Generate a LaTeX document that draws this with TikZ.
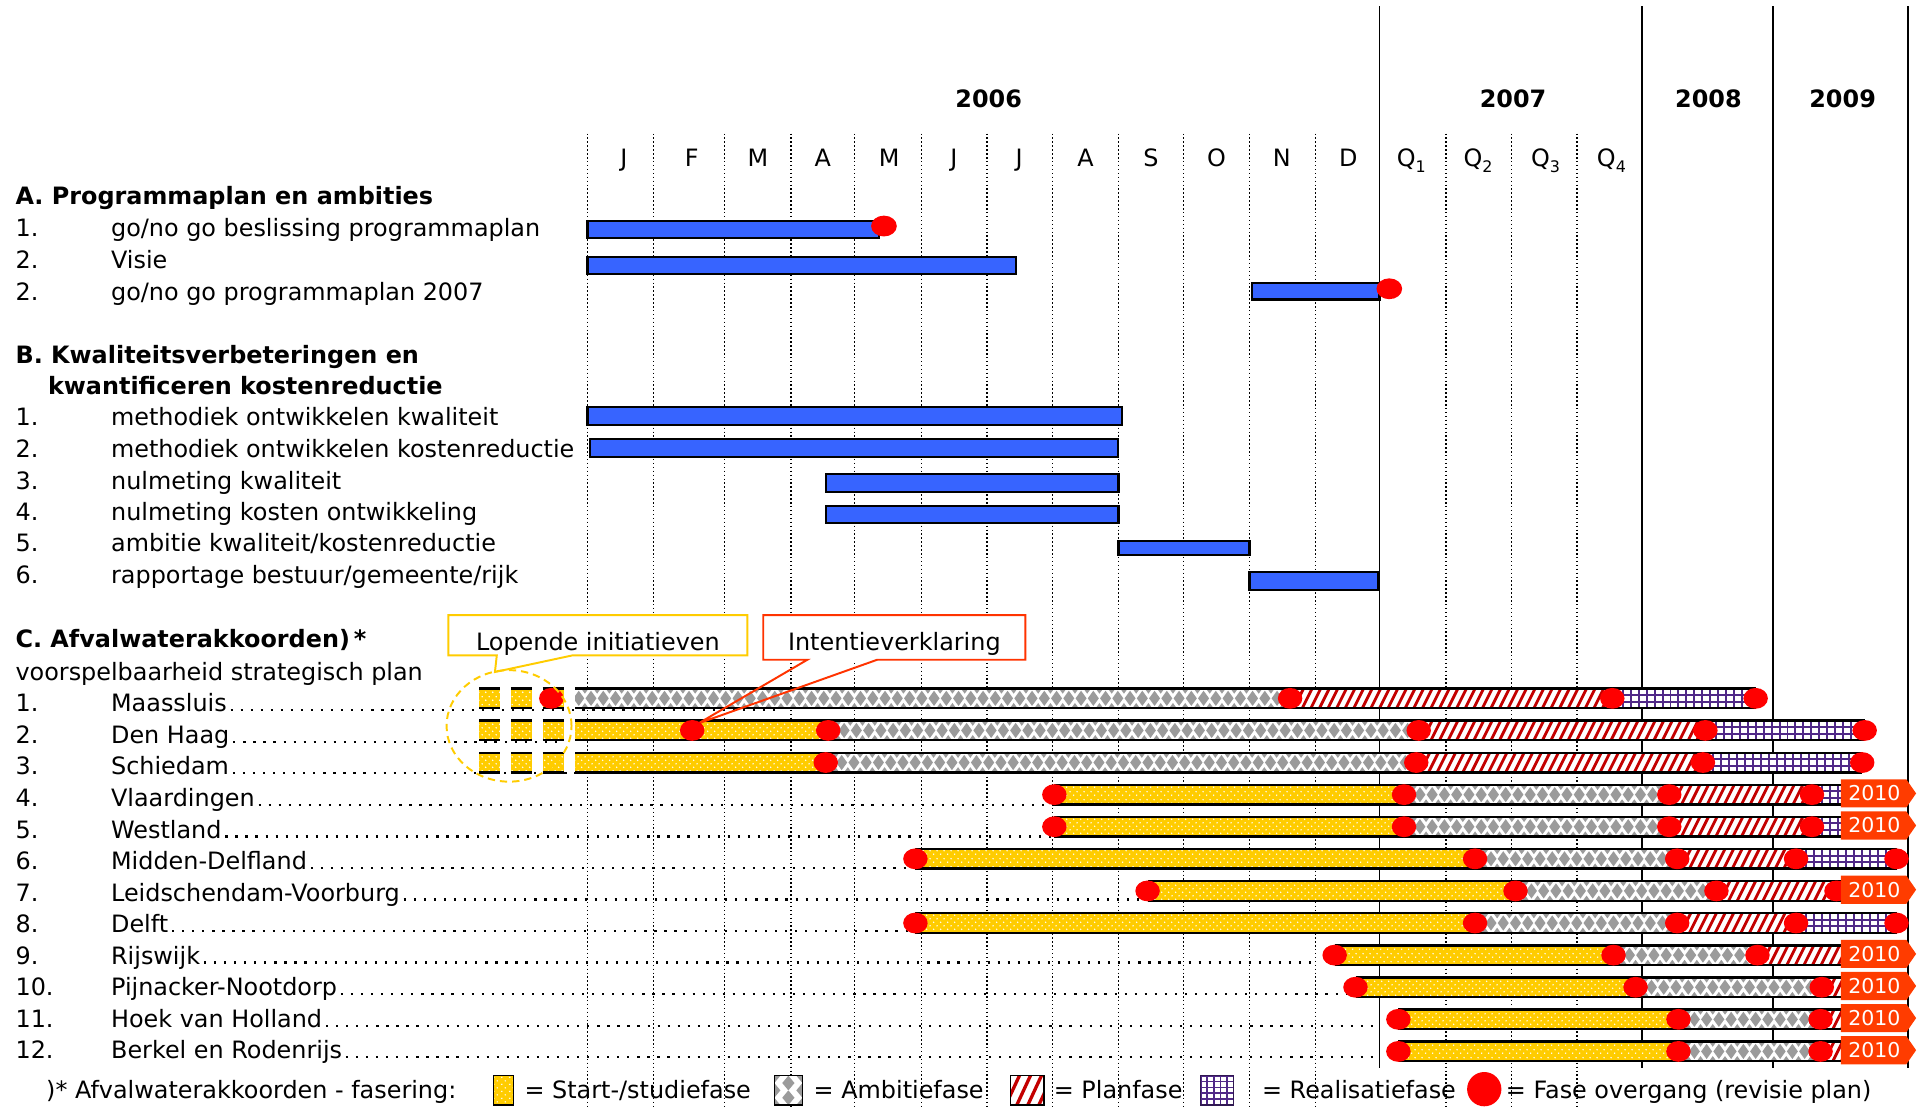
\documentclass[tikz,border=0pt]{standalone}
\usepackage{fontspec}
\setmainfont{DejaVu Sans}
\usetikzlibrary{patterns.meta}
\definecolor{bluebar}{RGB}{55,100,255}
\definecolor{ycol}{RGB}{255,204,0}
\definecolor{ambgrey}{RGB}{155,155,155}
\definecolor{plancol}{RGB}{195,0,0}
\definecolor{purp}{RGB}{80,40,135}
\definecolor{dotred}{RGB}{255,0,0}
\definecolor{orng}{RGB}{255,60,0}
\definecolor{callred}{RGB}{255,51,0}
\tikzdeclarepattern{
  name=ydots,
  type=uncolored,
  bounding box={(0pt,0pt) and (6pt,6pt)},
  tile size={(6pt,6pt)},
  code={
    \fill (1.5pt,1.5pt) circle [radius=0.7pt];
    \fill (4.5pt,4.5pt) circle [radius=0.7pt];
  }
}
% segment macros: #1 = x start, #2 = x end, #3 = bar centre y
\newcommand\yelseg[3]{%
  \fill[ycol] (#1,#3-8) rectangle (#2,#3+8);
  \fill[pattern=ydots, pattern color=white] (#1,#3-8) rectangle (#2,#3+8);}
\newcommand\ambseg[3]{%
  \begin{scope}
  \clip (#1,#3-8) rectangle (#2,#3+8);
  \fill[white] (#1,#3-8) rectangle (#2,#3+8);
  \pgfmathtruncatemacro\nmax{(#2-#1)/10+1}
  \foreach \k in {0,...,\nmax}{
    \pgfmathsetmacro\xx{#1+3+\k*10}
    \fill[ambgrey] (\xx-4.5,#3) -- (\xx,#3-6.2) -- (\xx+4.5,#3) -- (\xx,#3+6.2) -- cycle;
    \fill[ambgrey] (\xx+5-4.5,#3-10) -- (\xx+5,#3-16.2) -- (\xx+5+4.5,#3-10) -- (\xx+5,#3-3.8) -- cycle;
    \fill[ambgrey] (\xx+5-4.5,#3+10) -- (\xx+5,#3+3.8) -- (\xx+5+4.5,#3+10) -- (\xx+5,#3+16.2) -- cycle;
  }
  \end{scope}}
\newcommand\planseg[3]{%
  \begin{scope}
  \clip (#1,#3-8) rectangle (#2,#3+8);
  \fill[white] (#1,#3-8) rectangle (#2,#3+8);
  \pgfmathtruncatemacro\nmax{(#2-#1)/7+2}
  \foreach \k in {-1,...,\nmax}{
    \draw[plancol, line width=2.3pt] ({#1+\k*7-4.5},#3+9) -- ({#1+\k*7+4.5},#3-9);}
  \end{scope}}
\newcommand\realseg[3]{%
  \begin{scope}
  \clip (#1,#3-8) rectangle (#2,#3+8);
  \fill[white] (#1,#3-8) rectangle (#2,#3+8);
  \pgfmathtruncatemacro\nmax{(#2-#1)/6.5+1}
  \foreach \k in {0,...,\nmax}{
    \draw[purp, line width=1.6pt] ({#1+2+\k*6.5},#3-8) -- ({#1+2+\k*6.5},#3+8);}
  \draw[purp, line width=1.6pt] (#1,#3-2.7) -- (#2,#3-2.7) (#1,#3+2.7) -- (#2,#3+2.7);
  \end{scope}}
\newcommand\barframe[3]{%
  \draw[black, line width=2pt] (#1,#3-8) -- (#2,#3-8) (#1,#3+8) -- (#2,#3+8);}
\newcommand\rdot[2]{\fill[dotred] (#1,#2) ellipse [x radius=10pt, y radius=8.5pt];}
\newcommand\tenbox[2]{%
  \fill[orng] (1502.5,#1-11.5) -- (1556,#1-11.5) -- (1564,#1) -- (1556,#1+11.5) -- (1502.5,#1+11.5) -- cycle;
  \node[white, font=\fontsize{16.7}{18}\selectfont, inner sep=0pt] (#2) at (1530,#1) {2010};}
\newcommand\minisq[1]{%
  \foreach \a/\b in {391/408,417/434,443/460}{\yelseg{\a}{\b}{#1}\barframe{\a}{\b}{#1}}}

\begin{document}
\begin{tikzpicture}[x=1pt,y=-1pt,
  txt/.style={font=\fontsize{19.5}{23}\selectfont, inner sep=0pt, anchor=base west},
  bld/.style={font=\fontsize{19.5}{23}\selectfont\bfseries, inner sep=0pt, anchor=base west},
  hdr/.style={font=\fontsize{19.5}{23}\selectfont, inner sep=0pt, anchor=base},
  yr/.style={font=\fontsize{19.5}{23}\selectfont\bfseries, inner sep=0pt, anchor=base},
  gridln/.style={line width=1.1pt, dash pattern=on 1.2pt off 2pt},
  yearln/.style={line width=1.5pt},
  leader/.style={line width=1.8pt, dash pattern=on 1.8pt off 6.4pt},
  bluebox/.style={fill=bluebar, draw=black, line width=1.8pt},
]
\useasboundingbox (0,0) rectangle (1568,903);

% grid
\foreach \xx in {479.5,533.2,591.2,645.5,697.5,752.4,805.5,859.2,913,966.1,1019.8,1073.6,1180.4,1233.6,1287.3}
  {\draw[gridln] (\xx,109) -- (\xx,903);}
\foreach \xx in {1126,1340,1447.5,1557.5}
  {\draw[yearln] (\xx,5) -- (\xx,872);}

% header
\node[yr] (y2006) at (807,87.6) {2006};
\node[yr] (y2007) at (1235,87.6) {2007};
\node[yr] (y2008) at (1394.5,87.6) {2008};
\node[yr] (y2009) at (1504,87.6) {2009};
\foreach \m/\xx [count=\c] in {J/509.2,F/564.6,M/618.7,A/671.6,M/725.7,J/778.6,J/831.9,A/886,S/939.4,O/993,N/1046.3,D/1100.5}
  {\node[hdr] (mon\c) at (\xx,136) {\m};}
\foreach \q/\xx in {1/1152,2/1206.4,3/1261.6,4/1315.3}
  {\node[hdr] (q\q) at (\xx,136) {Q\raisebox{-4.9pt}{\fontsize{13}{13}\selectfont \q}};}

% section A
\node[bld] (hA) at (12.5,167.3) {A. Programmaplan en ambities};
\node[txt] (a1n) at (12.5,193.2) {1.};
\node[txt] (a1) at (90.5,193.2) {go/no go beslissing programmaplan};
\node[txt] (a2n) at (12.5,219) {2.};
\node[txt] (a2) at (90.5,219) {Visie};
\node[txt] (a3n) at (12.5,244.9) {2.};
\node[txt] (a3) at (90.5,244.9) {go/no go programmaplan 2007};
% section B
\node[bld] (hB) at (12.5,296.6) {B. Kwaliteitsverbeteringen en};
\node[bld] (hB2) at (39,321.6) {kwantificeren kostenreductie};
\foreach \i/\t/\yb in {1/methodiek ontwikkelen kwaliteit/347.7,2/methodiek ontwikkelen kostenreductie/373.3,3/nulmeting kwaliteit/399.4,4/nulmeting kosten ontwikkeling/425,5/ambitie kwaliteit\slash kostenreductie/450.3,6/rapportage bestuur\slash gemeente\slash rijk/476.2}{
  \node[txt] (bn\i) at (12.5,\yb) {\i.};
  \node[txt] (b\i) at (90.5,\yb) {\t};
}
% section C
\node[bld] (hC) at (12.5,528.4) {C. Afvalwaterakkoorden)\,*};
\node[txt] (hC2) at (12.5,555.1) {voorspelbaarheid strategisch plan};
\foreach \i/\nm/\xe in {1/Maassluis/634,2/Den Haag/460,3/Schiedam/588,4/Vlaardingen/1039,5/Westland/1055,6/Midden-Delfland/749,7/Leidschendam-Voorburg/1148,8/Delft/747,9/Rijswijk/1073,10/Pijnacker-Nootdorp/1100,11/Hoek van Holland/1126,12/Berkel en Rodenrijs/1126}{
  \pgfmathsetmacro\tb{581+25.75*(\i-1)}
  \node[txt] (cnum\i) at (12.5,\tb) {\i.};
  \node[txt] (cn\i) at (90.5,\tb) {\nm};
  \coordinate (le\i) at (\xe,\tb);
  \draw[leader] ([shift={(3pt,1.3pt)}]cn\i.base east) -- ([yshift=1.3pt]le\i);
}

% blue bars
\draw[bluebox] (479.5,180.5) rectangle (717.5,194);
\draw[bluebox] (479.5,209.5) rectangle (829,223.5);
\draw[bluebox] (1021.8,231) rectangle (1126,244.5);
\draw[bluebox] (479.5,332.5) rectangle (916,347);
\draw[bluebox] (481.6,358.6) rectangle (912.5,372.8);
\draw[bluebox] (674.5,387) rectangle (913,401.4);
\draw[bluebox] (674.5,413) rectangle (913,427.2);
\draw[bluebox] (913,441.4) rectangle (1019.8,453);
\draw[bluebox] (1019.8,467.2) rectangle (1125,481.6);
\fill[dotred] (721.5,184.5) ellipse [x radius=10.5pt, y radius=8.5pt];
\fill[dotred] (1134,235.7) ellipse [x radius=10.5pt, y radius=8.5pt];

% C bars
% row 1
\minisq{570}
\ambseg{469.4}{1053}{570}\planseg{1053}{1316}{570}\realseg{1316}{1433}{570}\barframe{469.4}{1433}{570}
% row 2
\minisq{596.2}
\yelseg{469.4}{676}{596.2}\ambseg{676}{1158}{596.2}\planseg{1158}{1392}{596.2}\realseg{1392}{1522}{596.2}\barframe{469.4}{1522}{596.2}
% row 3
\minisq{622.4}
\yelseg{469.4}{674}{622.4}\ambseg{674}{1156}{622.4}\planseg{1156}{1390}{622.4}\realseg{1390}{1520}{622.4}\barframe{469.4}{1520}{622.4}
% row 4 and 5
\foreach \yy in {648.6,674.8}{
  \yelseg{860.6}{1146}{\yy}\ambseg{1146}{1362.5}{\yy}\planseg{1362.5}{1479}{\yy}\realseg{1479}{1503}{\yy}\barframe{860.6}{1503}{\yy}}
% row 6 and 8
\foreach \yy in {701,753.4}{
  \yelseg{747.2}{1204}{\yy}\ambseg{1204}{1369}{\yy}\planseg{1369}{1466}{\yy}\realseg{1466}{1548}{\yy}\barframe{747.2}{1548}{\yy}}
% row 7
\yelseg{936.7}{1237}{727.2}\ambseg{1237}{1401}{727.2}\planseg{1401}{1503}{727.2}\barframe{936.7}{1503}{727.2}
% row 9
\yelseg{1089.4}{1317}{779.6}\ambseg{1317}{1434.5}{779.6}\planseg{1434.5}{1503}{779.6}\barframe{1089.4}{1503}{779.6}
% row 10
\yelseg{1106.4}{1335}{805.8}\ambseg{1335}{1487}{805.8}\planseg{1487}{1503}{805.8}\barframe{1106.4}{1503}{805.8}
% row 11 and 12
\foreach \yy in {832,858.2}{
  \yelseg{1141.4}{1370}{\yy}\ambseg{1370}{1486}{\yy}\planseg{1486}{1503}{\yy}\barframe{1141.4}{1503}{\yy}}

% callouts
\draw[ycol, line width=1.6pt, fill=white] (366,502) -- (610,502) -- (610,535) -- (467,535) -- (404,548.5) -- (405.5,535) -- (366,535) -- cycle;
\node[hdr] (lop) at (488,530.6) {Lopende initiatieven};
\fill[white] (623,502) rectangle (837,538.5);
\draw[callred, line width=1.6pt] (659,538.5) -- (623,538.5) -- (623,502) -- (837,502) -- (837,538.5) -- (716,538.5) -- (570,590.5) -- cycle;
\node[hdr] (int) at (730,530.6) {Intentieverklaring};

% phase transition dots
\foreach \xx/\yy in {450/570,1053/570,1316/570,1433/570,
  565/596.2,676/596.2,1158/596.2,1392/596.2,1522/596.2,
  674/622.4,1156/622.4,1390/622.4,1520/622.4,
  860.6/648.6,1146/648.6,1362.5/648.6,1479/648.6,
  860.6/674.8,1146/674.8,1362.5/674.8,1479/674.8,
  747.2/701,1204/701,1369/701,1466/701,1548/701,
  936.7/727.2,1237/727.2,1401/727.2,1499/727.2,
  747.2/753.4,1204/753.4,1369/753.4,1466/753.4,1548/753.4,
  1089.4/779.6,1317/779.6,1434.5/779.6,
  1106.4/805.8,1335/805.8,1487/805.8,
  1141.4/832,1370/832,1486/832,
  1141.4/858.2,1370/858.2,1486/858.2}
  {\rdot{\xx}{\yy}}

% 2010 boxes
\tenbox{647.6}{t4}
\tenbox{673.8}{t5}
\tenbox{726.2}{t7}
\tenbox{778.6}{t9}
\tenbox{804.8}{t10}
\tenbox{831}{t11}
\tenbox{857.2}{t12}

% dashed circle
\draw[ycol, line width=1.6pt, dash pattern=on 6pt off 4pt] (415.5,592.5) ellipse [x radius=51pt, y radius=45.5pt];

% legend
\node[txt] (lg0) at (37.5,897) {)* Afvalwaterakkoorden - fasering:};
\fill[ycol] (403,878) rectangle (419,902);
\fill[pattern=ydots, pattern color=white] (403,878) rectangle (419,902);
\draw[black, line width=1.2pt] (403,878) rectangle (419,902);
\node[txt] (lg1) at (428,897) {= Start-/studiefase};
\begin{scope}
  \clip (632,878) rectangle (655,902);
  \fill[white] (632,878) rectangle (655,902);
  \foreach \cx/\cy in {643.5/884,643.5/896,632/890,655/890,632/878,655/878,632/902,655/902}
    {\fill[ambgrey] (\cx-5,\cy) -- (\cx,\cy-6) -- (\cx+5,\cy) -- (\cx,\cy+6) -- cycle;}
\end{scope}
\draw[black, line width=1.2pt] (632,878) rectangle (655,902);
\node[txt] (lg2) at (664,897) {= Ambitiefase};
\begin{scope}
  \clip (825,878) rectangle (852,902);
  \fill[white] (825,878) rectangle (852,902);
  \foreach \k in {-1,...,4}
    {\draw[plancol, line width=2.7pt] ({825+\k*9-5},904) -- ({825+\k*9+8},876);}
\end{scope}
\draw[black, line width=1.2pt] (825,878) rectangle (852,902);
\node[txt] (lg3) at (860,897) {= Planfase};
\begin{scope}
  \clip (980,878) rectangle (1007,902);
  \fill[white] (980,878) rectangle (1007,902);
  \foreach \k in {0,...,4}
    {\draw[purp, line width=1.5pt] ({980+\k*5.4},878) -- ({980+\k*5.4},902);}
  \foreach \k in {0,...,4}
    {\draw[purp, line width=1.5pt] (980,{878+\k*4.8}) -- (1007,{878+\k*4.8});}
\end{scope}
\draw[purp!60!black, line width=1.2pt] (980,878) rectangle (1007,902);
\node[txt] (lg4) at (1030,897) {= Realisatiefase};
\fill[dotred] (1211.5,889) ellipse [x radius=14pt, y radius=14pt];
\node[txt] (lg5) at (1229,897) {= Fase overgang (revisie plan)};
\end{tikzpicture}
\end{document}
